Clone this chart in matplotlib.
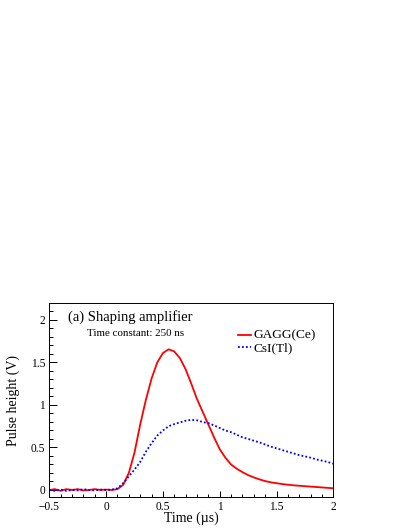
import matplotlib
matplotlib.use("Agg")
import matplotlib.pyplot as plt
from matplotlib.lines import Line2D
from matplotlib.ticker import MultipleLocator

plt.rcParams['font.family'] = ['Liberation Serif', 'DejaVu Serif']
plt.rcParams['mathtext.fontset'] = 'stix'

time_us = [-0.5, -0.45, -0.4, -0.35, -0.3, -0.25, -0.2, -0.15, -0.1, -0.05,
           0.0, 0.05, 0.1, 0.15, 0.2, 0.25, 0.3, 0.35, 0.4, 0.45,
           0.5, 0.55, 0.6, 0.65, 0.7, 0.75, 0.8, 0.85, 0.9, 0.95,
           1.0, 1.05, 1.1, 1.15, 1.2, 1.25, 1.3, 1.35, 1.4, 1.45,
           1.5, 1.55, 1.6, 1.65, 1.7, 1.75, 1.8, 1.85, 1.9, 1.95, 2.0]

gagg_v = [0.00, 0.01, -0.01, 0.01, 0.00, 0.01, -0.005, 0.00, 0.01, 0.00,
          0.005, 0.00, 0.01, 0.06, 0.20, 0.44, 0.77, 1.06, 1.31, 1.50,
          1.61, 1.655, 1.63, 1.55, 1.42, 1.25, 1.07, 0.92, 0.77, 0.62,
          0.48, 0.38, 0.30, 0.25, 0.21, 0.175, 0.148, 0.125, 0.105, 0.09,
          0.08, 0.07, 0.062, 0.055, 0.05, 0.045, 0.04, 0.035, 0.03, 0.025, 0.02]

csi_v = [0.00, -0.01, 0.005, -0.01, 0.00, -0.005, 0.01, 0.00, -0.005, 0.005,
         0.00, 0.005, 0.02, 0.08, 0.16, 0.24, 0.33, 0.45, 0.55, 0.64,
         0.70, 0.75, 0.775, 0.795, 0.815, 0.825, 0.82, 0.80, 0.785, 0.76,
         0.73, 0.70, 0.68, 0.65, 0.62, 0.60, 0.58, 0.56, 0.535, 0.51,
         0.49, 0.47, 0.45, 0.43, 0.41, 0.395, 0.38, 0.36, 0.345, 0.33, 0.31]

W, H = 409, 529
fig = plt.figure(figsize=(W / 100, H / 100), dpi=100)
fig.patch.set_facecolor('white')

L, R, T, B = 49.3, 333.3, 303.3, 497.3
ax = fig.add_axes([L / W, 1 - B / H, (R - L) / W, (B - T) / H])

ax.plot(time_us, gagg_v, color='#ff0000', lw=1.3, solid_joinstyle='round')
ax.plot(time_us, csi_v, color='#0000ff', lw=1.3, linestyle=(0, (1, 1.2)))

ax.set_xlim(-0.5, 2.0)
ax.set_ylim(-0.086, 2.196)

ax.xaxis.set_major_locator(MultipleLocator(0.5))
ax.xaxis.set_minor_locator(MultipleLocator(0.1))
ax.yaxis.set_major_locator(MultipleLocator(0.5))
ax.yaxis.set_minor_locator(MultipleLocator(0.1))

def fmt(v, pos):
    s = ('%g' % v)
    return s.replace('-', '\u2212')
ax.xaxis.set_major_formatter(matplotlib.ticker.FuncFormatter(fmt))
ax.yaxis.set_major_formatter(matplotlib.ticker.FuncFormatter(fmt))

ax.tick_params(axis='x', which='major', direction='in', length=4.3, width=0.7, labelsize=8.3, pad=3)
ax.tick_params(axis='x', which='minor', direction='in', length=2.2, width=0.7)
ax.tick_params(axis='y', which='major', direction='in', length=6.0, width=0.7, labelsize=8.3, pad=3)
ax.tick_params(axis='y', which='minor', direction='in', length=3.0, width=0.7)
ax.tick_params(top=False, right=False, which='both')
for s in ax.spines.values():
    s.set_linewidth(0.7)

def fx(px):
    return px / W

def fy(py):
    return 1 - py / H

fig.text(fx(191.3), fy(521.5), 'Time (\u00b5s)', ha='center', va='baseline', fontsize=10)
fig.text(fx(13), fy(400), 'Pulse height (V)', ha='center', va='center', rotation=90, fontsize=10)

fig.text(fx(67.7), fy(320.7), '(a) Shaping amplifier', ha='left', va='baseline', fontsize=10.5)
fig.text(fx(86.7), fy(336), 'Time constant: 250 ns', ha='left', va='baseline', fontsize=7.9)

fig.add_artist(Line2D([fx(237.7), fx(251)], [fy(335), fy(335)], color='#ff0000', lw=1.3))
fig.add_artist(Line2D([fx(237.7), fx(251)], [fy(347), fy(347)], color='#0000ff', lw=1.3,
                      linestyle=(0, (1, 1.2))))
fig.text(fx(253.3), fy(338.5), 'GAGG(Ce)', ha='left', va='baseline', fontsize=9.6)
fig.text(fx(253.3), fy(351.7), 'CsI(Tl)', ha='left', va='baseline', fontsize=9.6)

fig.savefig('out.png', dpi=100, facecolor='white')
